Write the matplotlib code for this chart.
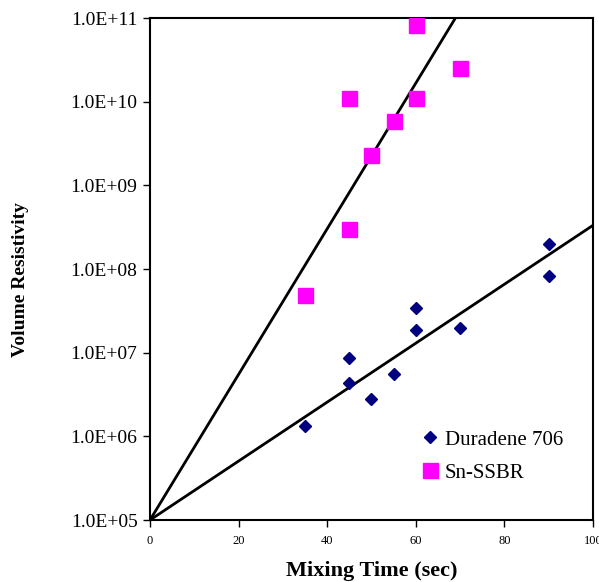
import numpy as np
import matplotlib.pyplot as plt
from matplotlib.ticker import FuncFormatter, FixedLocator, NullLocator

# mixing time (sec) and volume resistivity
dur_time = [35, 45, 45, 50, 55, 60, 60, 70, 90, 90]
dur_res = [1.32e6, 4.4e6, 8.7e6, 2.8e6, 5.6e6, 1.87e7, 3.4e7, 1.98e7, 8.3e7, 1.98e8]

sn_time = [35, 45, 45, 50, 55, 60, 60, 70]
sn_res = [4.9e7, 3.0e8, 1.1e10, 2.3e9, 5.8e9, 1.1e10, 8.3e10, 2.5e10]

y_ticks = [1e5, 1e6, 1e7, 1e8, 1e9, 1e10, 1e11]
x_ticks = [0, 20, 40, 60, 80, 100]

plt.rcParams['font.family'] = ['Liberation Serif', 'DejaVu Serif']

fig = plt.figure(figsize=(5.99, 5.82), dpi=100)
ax = fig.add_axes([0.2504, 0.1065, 0.7396, 0.8625])


# exponential trendlines forced through 1E+05 at t=0 (like Excel's "set intercept")
def exp_fit(t, r):
    t = np.array(t, dtype=float)
    ly = np.log10(r) - 5
    return np.sum(t * ly) / np.sum(t * t)


k_dur = exp_fit(dur_time, dur_res)
k_sn = exp_fit(sn_time, sn_res)

t1 = np.linspace(0, 100, 50)
t2 = np.linspace(0, 70, 50)
ax.plot(t1, 1e5 * 10 ** (k_dur * t1), color='black', lw=2, zorder=2)
ax.plot(t2, 1e5 * 10 ** (k_sn * t2), color='black', lw=2, zorder=2)

ax.plot(dur_time, dur_res, 'D', color='#000080', ms=5.9, ls='none',
        label='Duradene 706', zorder=3)
ax.plot(sn_time, sn_res, 's', color='#FF00FF', ms=10.8, ls='none',
        label='Sn-SSBR', zorder=3)

ax.set_yscale('log')
ax.set_xlim(0, 100)
ax.set_ylim(1e5, 1e11)
ax.yaxis.set_major_locator(FixedLocator(y_ticks))
ax.yaxis.set_minor_locator(NullLocator())
ax.yaxis.set_major_formatter(FuncFormatter(lambda v, p: f'{v:.1E}'))
ax.set_xticks(x_ticks)

ax.tick_params(axis='y', direction='out', length=5, width=1, labelsize=14, pad=4)
ax.tick_params(axis='x', direction='out', length=5, width=1, labelsize=9, pad=6)
for s in ax.spines.values():
    s.set_linewidth(1.5)

ax.set_xlabel('Mixing Time (sec)', fontsize=16, fontweight='bold', labelpad=10)
fig.text(0.034, 0.52, 'Volume Resistivity', rotation=90, fontsize=14,
         fontweight='bold', ha='center', va='center')

ax.legend(loc='upper left', bbox_to_anchor=(0.59, 0.20), frameon=False,
          fontsize=15, handlelength=0.8, handletextpad=0.3, labelspacing=0.65,
          borderpad=0)

fig.savefig('out.png', dpi=100, facecolor='white')
